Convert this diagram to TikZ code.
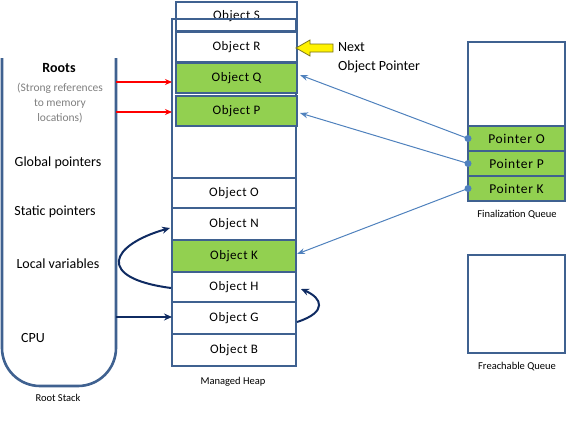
\documentclass[tikz,border=0pt]{standalone}
\usepackage{fontspec}
\setmainfont{Carlito}
\usetikzlibrary{arrows.meta,calc}
\definecolor{bord}{HTML}{3F6190}
\definecolor{grn}{HTML}{92D050}
\definecolor{lblue}{HTML}{4F81BD}
\definecolor{navy}{HTML}{0F2B62}
\definecolor{gtext}{HTML}{7F7F7F}
\tikzset{
  obj/.style={draw=bord, line width=2.6pt, anchor=north west, inner sep=0pt, outer sep=0pt,
    minimum width=#1, font=\fontsize{13}{15}\selectfont\addfontfeatures{LetterSpace=4}},
  objg/.style={obj=#1, fill=grn},
  ptr/.style={objg=#1, font=\fontsize{13.5}{15}\selectfont\addfontfeatures{LetterSpace=5}},
  smallcap/.style={font=\fontsize{10.5}{12}\selectfont},
  lbl/.style={font=\fontsize{14}{16}\selectfont, inner sep=0pt},
  redarr/.style={red, line width=1.4pt, -{Stealth[length=7pt,width=6pt]}},
  bluearr/.style={lblue, line width=1pt, -{Stealth[length=8pt,width=6pt]}},
  navyarr/.style={navy, line width=2pt, -{Stealth[length=8pt,width=7pt]}},
  ptdot/.style={circle, fill=lblue, inner sep=0pt, minimum size=7pt}
}
\begin{document}
\begin{tikzpicture}[x=1pt,y=-1pt]
\useasboundingbox (0,0) rectangle (576,423);
% Root stack
\draw[bord, line width=2.6pt, rounded corners=38pt] (2,58) -- (2,386) -- (116,386) -- (116,58);
\node[smallcap] (rslbl) at (58,398) {Root Stack};
\node[lbl, font=\fontsize{14}{16}\bfseries] (roots) at (59,68) {Roots};
\node[lbl, text=gtext, font=\fontsize{11.5}{13}\selectfont, align=center] (strong) at (60,103) {(Strong references\\[2pt]to memory\\[2pt]locations)};
\node[lbl] (glob) at (58,163) {Global pointers};
\node[lbl] (stat) at (55,212) {Static pointers};
\node[lbl] (loc) at (58,264) {Local variables};
\node[lbl] (cpu) at (33,338) {CPU};
\coordinate (rs1) at (116,82);
\coordinate (rs2) at (116,112);
\coordinate (rs3) at (116,317);
% Managed heap
\node[obj=121pt, minimum height=29pt] (S) at (176,2) {Object S};
\node[draw=bord, line width=2.6pt, anchor=north west, minimum width=124pt, minimum height=347pt, inner sep=0pt, outer sep=0pt] (heap) at (172,19) {};
\node[obj=121pt, minimum height=30pt, fill=white] (R) at (176,32) {Object R};
\node[objg=121pt, minimum height=30pt] (Q) at (176,63) {Object Q};
\node[objg=121pt, minimum height=30pt] (P) at (176,96) {Object P};
\node[obj=124pt, minimum height=30pt] (O) at (172,178) {Object O};
\node[obj=124pt, minimum height=32pt] (N) at (172,208) {Object N};
\node[objg=124pt, minimum height=32pt] (K) at (172,240) {Object K};
\node[obj=124pt, minimum height=30pt] (H) at (172,272) {Object H};
\node[obj=124pt, minimum height=32pt] (G) at (172,302) {Object G};
\node[obj=124pt, minimum height=32pt] (B) at (172,334) {Object B};
\node[smallcap] (mh) at (233,382) {Managed Heap};
% Next object pointer
\draw[draw=olive!80!black, fill=yellow, line width=0.8pt]
  (296,48) -- (310,40) -- (310,44) -- (333,44) -- (333,52) -- (310,52) -- (310,56) -- cycle;
\node[lbl, anchor=west] (nxt) at (338,47) {Next};
\node[lbl, anchor=west] (nop) at (338,67) {Object Pointer};
% Finalization queue
\node[draw=bord, line width=2.6pt, anchor=north west, minimum width=97pt, minimum height=84pt, inner sep=0pt, outer sep=0pt] (fq) at (468,42) {};
\node[ptr=97pt, minimum height=25pt] (PO) at (468,126) {Pointer O};
\node[ptr=97pt, minimum height=25pt] (PP) at (468,151) {Pointer P};
\node[ptr=97pt, minimum height=25pt] (PK) at (468,176) {Pointer K};
\node[smallcap] (fqlbl) at (517,215) {Finalization Queue};
% Freachable queue
\node[draw=bord, line width=2.6pt, anchor=north west, minimum width=97pt, minimum height=98pt, inner sep=0pt, outer sep=0pt] (frq) at (468,255) {};
\node[smallcap] (frqlbl) at (517,367) {Freachable Queue};
% dots
\node[ptdot] (dO) at (PO.west) {};
\node[ptdot] (dP) at (PP.west) {};
\node[ptdot] (dK) at (PK.west) {};
% arrows
\draw[redarr] (rs1) -- (rs1 -| heap.west);
\draw[redarr] (rs2) -- (rs2 -| heap.west);
\draw[bluearr] (dO.center) -- ($(Q.east)+(3,-3)$);
\draw[bluearr] (dP.center) -- ($(P.east)+(3,2)$);
\draw[bluearr] (dK.center) -- ($(K.east)+(1,-2)$);
\draw[navyarr] (rs3) -- (rs3 -| G.west);
\draw[navyarr] ($(H.west)+(-1,1)$) .. controls (95,278) and (110,245) .. ($(N.west)+(-2,4)$);
\draw[navyarr] ($(G.east)+(1,4)$) .. controls (328,312) and (322,298) .. ($(H.east)+(5,2)$);
\end{tikzpicture}
\end{document}
